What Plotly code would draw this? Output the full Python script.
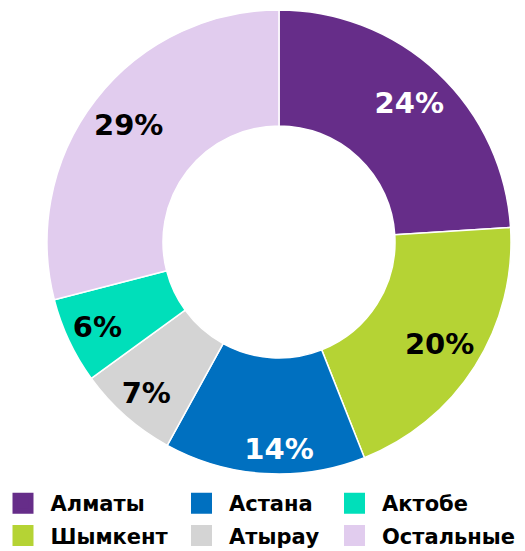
import plotly.graph_objects as go

labels = ["Алматы", "Шымкент", "Астана", "Атырау", "Актобе", "Остальные"]
values = [24, 20, 14, 7, 6, 29]
colors = ["#662D89", "#B5D334", "#0070C0", "#D4D4D4", "#00DFBA", "#E1CCEE"]
text_colors = ["white", "black", "white", "black", "black", "black"]

# legend columns (row-major in the picture: column 1 = Алматы/Шымкент, ...)
legend_columns = [["Алматы", "Шымкент"], ["Астана", "Атырау"], ["Актобе", "Остальные"]]

FONT = "DejaVu Sans"
domain = dict(x=[46 / 525, 512 / 525], y=[1 - 474 / 551, 1 - 10 / 551])

fig = go.Figure()
# coloured donut
fig.add_trace(go.Pie(
    labels=labels, values=values, sort=False, direction="clockwise", rotation=0,
    hole=0.5,
    marker=dict(colors=colors, line=dict(color="white", width=1.5)),
    textinfo="none", hoverinfo="label+value",
    showlegend=False, domain=domain,
))

# transparent rings carrying the percentage labels (label radius differs a bit per slice)
label_rings = [
    (0.64, {"Алматы", "Шымкент", "Остальные"}),
    (0.73, {"Атырау", "Актобе"}),
    (0.80, {"Астана"}),
]
for hole, shown in label_rings:
    fig.add_trace(go.Pie(
        labels=labels, values=values, sort=False, direction="clockwise", rotation=0,
        hole=hole,
        marker=dict(colors=["rgba(0,0,0,0)"] * len(labels), line=dict(width=0)),
        texttemplate=["%{value}%" if lab in shown else "" for lab in labels],
        textposition="inside",
        insidetextorientation="horizontal",
        textfont=dict(family=FONT, size=29, color=text_colors, weight="bold"),
        hoverinfo="skip", showlegend=False, domain=domain,
    ))

color_of = dict(zip(labels, colors))
legend_names = ["legend", "legend2", "legend3"]
for col, names in enumerate(legend_columns):
    for name in names:
        fig.add_trace(go.Scatter(
            x=[None], y=[None], mode="markers", name=name,
            marker=dict(symbol="square", size=16, color=color_of[name],
                        line=dict(color=color_of[name], width=5)),
            legend=legend_names[col], legendgroup=name, showlegend=True,
        ))

legend_x = [-4.5 / 525, 174 / 525, 327 / 525]
common = dict(
    orientation="v", yanchor="top", y=1 - 483 / 551, xanchor="left",
    font=dict(family=FONT, size=21, color="black", weight="bold"),
    itemwidth=45,
    tracegroupgap=2, bgcolor="rgba(0,0,0,0)", borderwidth=0,
)
fig.update_layout(
    width=525, height=551,
    margin=dict(l=0, r=0, t=0, b=0, autoexpand=False),
    paper_bgcolor="white", plot_bgcolor="white",
    xaxis=dict(visible=False), yaxis=dict(visible=False),
    uniformtext=dict(minsize=29, mode="show"),
    legend=dict(x=legend_x[0], **common),
    legend2=dict(x=legend_x[1], **common),
    legend3=dict(x=legend_x[2], **common),
)

fig.write_html("out.html", config={"displayModeBar": False},
               post_script="document.body.style.margin='0';")
